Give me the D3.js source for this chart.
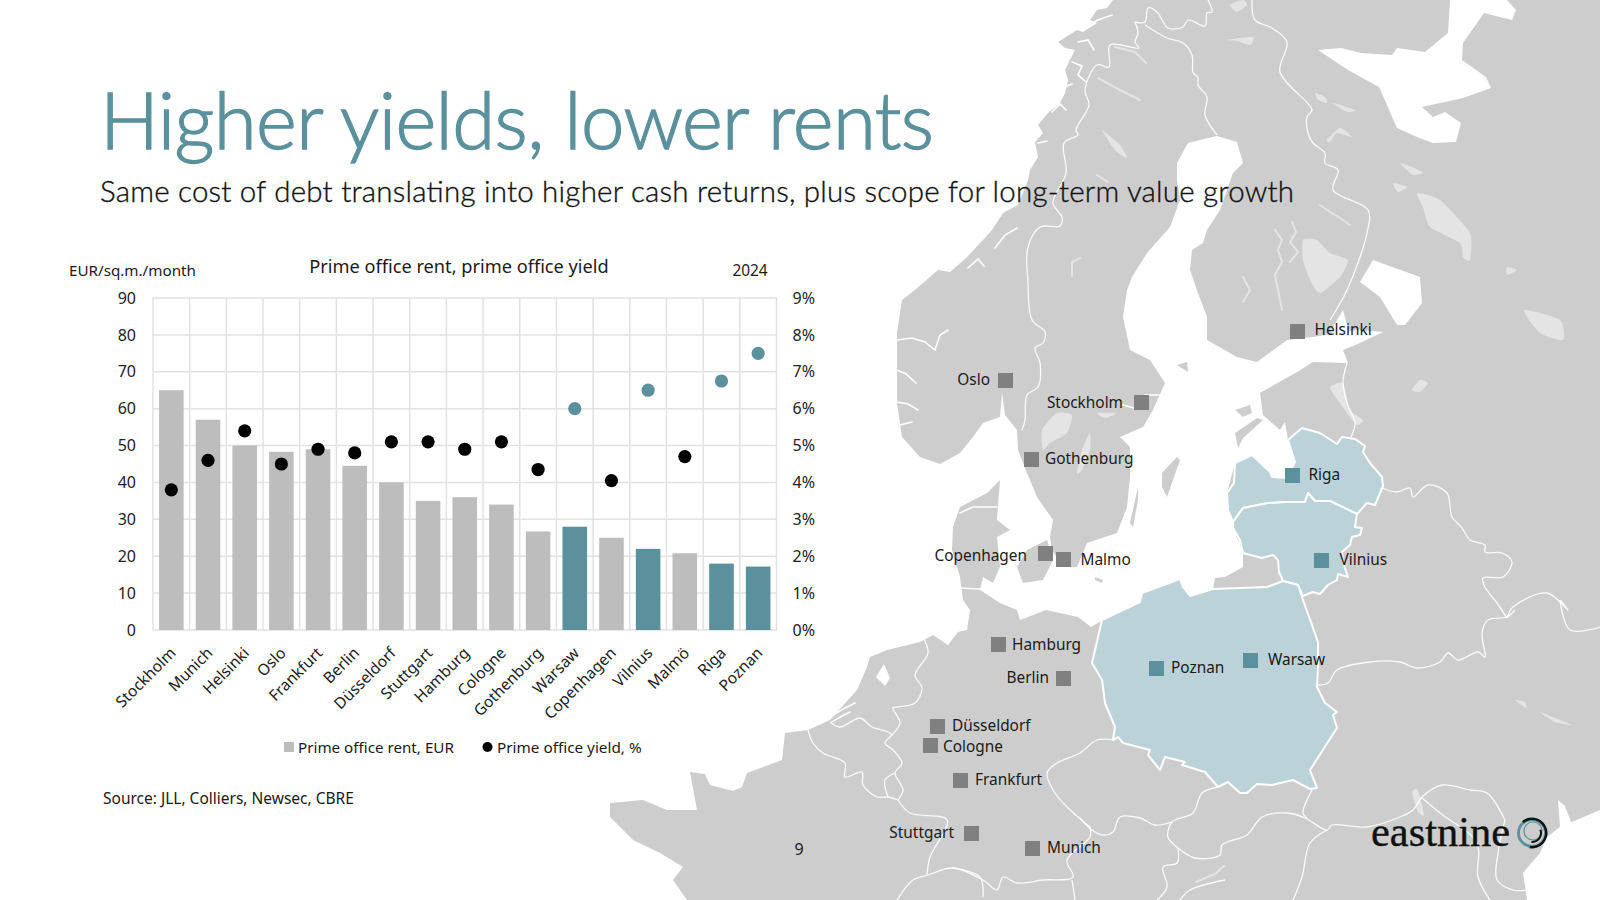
<!DOCTYPE html>
<html><head><meta charset="utf-8">
<script src="https://cdn.jsdelivr.net/npm/d3@7/dist/d3.min.js"></script>
<style>
html,body{margin:0;padding:0;background:#fff;overflow:hidden}
svg{display:block}
text{font-family:"Noto Sans",sans-serif}
</style></head><body>
<svg id="c" width="1600" height="900"></svg>
<script>
// ---------- chart data ----------
const categories=["Stockholm","Munich","Helsinki","Oslo","Frankfurt","Berlin","Düsseldorf","Stuttgart","Hamburg","Cologne","Gothenburg","Warsaw","Copenhagen","Vilnius","Malmö","Riga","Poznan"];
const rentValues=[65,57,50,48.3,49,44.5,40,35,36,34,26.7,28,25,22,20.8,18,17.2];
const yieldValues=[3.8,4.6,5.4,4.5,4.9,4.8,5.1,5.1,4.9,5.1,4.35,6.0,4.05,6.5,4.7,6.75,7.5];
const focusCities=["Warsaw","Vilnius","Riga","Poznan"];
const rentTicks=[0,10,20,30,40,50,60,70,80,90];
const yieldTicks=[0,1,2,3,4,5,6,7,8,9];
// ---------- map cities ----------
const cityNames=["Helsinki","Oslo","Stockholm","Gothenburg","Copenhagen","Malmo","Riga","Vilnius","Poznan","Warsaw","Hamburg","Berlin","Düsseldorf","Cologne","Frankfurt","Stuttgart","Munich"];
const cityX=[1297.5,1005.5,1141.5,1031.5,1045.5,1063.5,1292.5,1321.5,1156.5,1250.5,998.5,1063.5,937.5,930.5,960.5,971.5,1032.5];
const cityY=[331.5,380.5,402.5,459.5,553.5,559.5,475.5,560.5,668.5,660.5,644.5,678.5,726.5,745.5,780.5,833.5,848.5];
const cityLabelLeft=["Oslo","Stockholm","Copenhagen","Berlin","Stuttgart"];
const cityFocus=["Riga","Vilnius","Poznan","Warsaw"];
// ---------- map outlines (base-map geometry) ----------
const landOutline=[[1113,0],[1107,8],[1097,10],[1090,20],[1097,23],[1083,32],[1077,30],[1058,42],[1065,48],[1075,50],[1065,70],[1068,80],[1065,93],[1060,103],[1048,113],[1038,125],[1043,133],[1035,142],[1038,157],[1030,170],[1028,180],[1018,205],[1003,213],[992,230],[983,240],[967,257],[950,272],[938,270],[915,290],[902,300],[897,333],[897,403],[902,437],[920,457],[940,464],[960,453],[973,437],[983,423],[1000,417],[1002,393],[1005,415],[1017,430],[1018,450],[1027,473],[1037,497],[1053,520],[1050,537],[1052,550],[1063,567],[1077,567],[1087,543],[1117,533],[1127,507],[1130,477],[1130,447],[1120,437],[1143,427],[1153,410],[1165,383],[1150,360],[1130,350],[1123,317],[1127,290],[1132,277],[1147,253],[1170,227],[1180,200],[1177,180],[1177,163],[1188,143],[1200,140],[1217,136],[1237,142],[1243,163],[1233,173],[1220,210],[1207,230],[1203,243],[1192,250],[1190,270],[1198,293],[1207,317],[1207,340],[1237,357],[1257,362],[1287,340],[1313,337],[1357,330],[1383,332],[1360,343],[1343,350],[1348,363],[1313,362],[1297,372],[1260,393],[1263,415],[1280,430],[1285,422],[1288,440],[1295,462],[1287,478],[1272,477],[1252,455],[1235,463],[1227,493],[1233,528],[1243,553],[1243,567],[1225,577],[1215,578],[1213,589],[1190,596],[1183,587],[1180,579],[1142,593],[1140,602],[1105,619],[1091,627],[1078,617],[1046,610],[1020,620],[1017,610],[1000,603],[980,590],[983,577],[993,583],[1000,567],[997,537],[1010,530],[997,520],[1000,480],[987,493],[960,507],[953,527],[952,550],[960,577],[963,600],[970,610],[967,630],[958,632],[948,645],[933,635],[920,642],[887,650],[870,657],[867,667],[857,690],[848,700],[830,720],[808,730],[785,733],[782,760],[747,773],[742,787],[733,791],[710,785],[705,774],[690,772],[697,810],[667,810],[643,800],[610,803],[610,817],[633,840],[660,853],[683,867],[673,880],[687,900],[1527,900],[1523,873],[1540,853],[1547,837],[1560,827],[1600,810],[1600,0]];
const seaPatches=[
 [[1318,50],[1341,48],[1361,53],[1392,55],[1397,48],[1425,52],[1448,33],[1450,0],[1507,0],[1516,10],[1512,20],[1484,13],[1463,43],[1462,60],[1486,77],[1491,88],[1463,98],[1422,107],[1433,117],[1445,112],[1461,123],[1456,142],[1433,143],[1417,137],[1397,128],[1379,87],[1348,70]],
 [[1360,282],[1373,260],[1420,277],[1422,303],[1405,325],[1397,325],[1380,297]],
 [[1330,332],[1343,310],[1350,336]],
 [[876,677],[884,664],[890,678],[885,686]],
 [[1237,533],[1240,550],[1228,566],[1243,567],[1243,553]],
 [[1560,827],[1558,800],[1565,806],[1572,825]]
];
const islands=[
 [[1027,550],[1047,540],[1053,560],[1043,580],[1023,583],[1017,567]],
 [[1162,473],[1177,457],[1180,460],[1167,497],[1162,487]],
 [[1130,523],[1138,487],[1138,500],[1133,527]],
 [[1095,577],[1103,580],[1102,583],[1095,580]],
 [[1235,410],[1250,405],[1252,413],[1243,417]],
 [[1235,433],[1257,418],[1263,420],[1243,438],[1238,448]],
 [[1177,365],[1187,362],[1188,372]]
];
const lakes=[
 [[1043,450],[1042,430],[1057,413],[1072,415],[1067,433],[1050,443]],
 [[1077,473],[1082,450],[1090,433],[1090,450],[1082,470]],
 [[1097,413],[1117,413],[1105,418]],
 [[1330,388],[1343,383],[1350,410],[1363,420],[1357,425],[1347,413]],
 [[1303,240],[1317,240],[1330,253],[1348,260],[1340,277],[1320,293],[1310,280],[1303,260]],
 [[1417,193],[1440,200],[1470,233],[1470,260],[1463,257],[1460,243],[1430,227],[1423,207]],
 [[1315,93],[1325,97],[1327,103],[1318,100]],
 [[1333,103],[1355,110],[1347,112]],
 [[1327,140],[1340,128],[1352,137],[1337,133],[1330,142]],
 [[1400,163],[1423,172],[1413,175]],
 [[1393,183],[1407,187],[1398,192]],
 [[1524,310],[1560,320],[1563,340],[1540,333]],
 [[1507,267],[1517,270],[1507,275]],
 [[1412,390],[1420,380],[1428,383],[1420,392]],
 [[1225,40],[1253,37],[1250,45],[1237,41]],
 [[1230,5],[1243,0],[1247,5],[1237,12]],
 [[1102,130],[1120,145],[1127,158],[1115,150]],
 [[1412,792],[1418,790],[1424,815],[1418,812]],
 [[1515,700],[1525,702],[1526,708]],
 [[1540,712],[1555,718],[1572,725],[1555,722]]
];
const lakeStreaks=[
 [[1098,78],[1120,90],[1140,100]],[[1115,47],[1135,52],[1146,63]],
 [[1275,230],[1282,240],[1278,250],[1282,262],[1275,275],[1278,290],[1282,310]],
 [[1292,222],[1296,232],[1290,242],[1298,252],[1290,262]],
 [[1243,277],[1250,290],[1243,302]],
 [[1320,205],[1330,212],[1340,218],[1350,225]],
 [[1080,258],[1072,262],[1072,276]],
 [[1097,175],[1108,182]],
 [[1196,882],[1215,874],[1224,866]]
];
const fjords=[
 [[1088,25],[1098,20],[1112,15]],[[1078,42],[1088,40],[1094,50]],[[1072,62],[1082,66],[1078,75],[1086,82]],[[1062,88],[1072,84]],[[1052,112],[1060,104],[1066,110]],
 [[1038,143],[1047,141]],[[995,248],[1005,235],[1017,228]],[[968,268],[978,259],[984,266]],
 [[897,340],[912,338],[925,342],[935,350],[940,335],[948,330]],[[897,370],[906,374],[916,383]],[[897,402],[908,404],[918,410]],[[900,425],[912,422]],
 [[1125,437],[1138,435]],[[1123,405],[1134,408]],[[1145,395],[1160,395]],
 [[960,513],[973,507],[997,507]],[[833,715],[845,708],[855,703]],[[832,722],[842,716],[850,712]]
];
const latvia=[[1288,440],[1302,428],[1320,433],[1337,444],[1342,437],[1355,439],[1365,446],[1363,452],[1370,463],[1382,477],[1383,486],[1375,505],[1367,503],[1357,514],[1330,501],[1315,501],[1308,493],[1305,502],[1287,502],[1268,503],[1243,508],[1233,522],[1228,510],[1227,493],[1234,483],[1235,463],[1252,455],[1270,472],[1272,477],[1287,478],[1295,462]];
const lithuania=[[1233,522],[1243,508],[1268,503],[1287,502],[1305,502],[1308,493],[1315,501],[1330,501],[1357,514],[1355,527],[1362,528],[1360,535],[1352,537],[1350,545],[1342,552],[1343,562],[1348,577],[1338,574],[1337,580],[1328,585],[1320,594],[1313,592],[1303,596],[1298,585],[1283,581],[1279,572],[1278,560],[1273,555],[1262,558],[1243,553],[1240,540],[1233,528]];
const poland=[[1180,579],[1142,593],[1140,602],[1102,620],[1098,637],[1092,663],[1102,680],[1105,703],[1115,727],[1113,740],[1118,737],[1123,743],[1150,750],[1148,755],[1160,770],[1165,757],[1185,762],[1182,765],[1205,772],[1218,787],[1228,782],[1240,793],[1247,793],[1257,784],[1272,785],[1293,780],[1310,789],[1317,788],[1310,770],[1337,728],[1333,715],[1337,712],[1325,703],[1317,687],[1318,667],[1318,642],[1303,600],[1298,585],[1283,581],[1267,587],[1213,589],[1190,596],[1183,587]];
const borders=[
 [[1135,22],[1138,33],[1135,42],[1139,48],[1110,45],[1109,67],[1097,65],[1085,90],[1089,105],[1076,130],[1078,135],[1064,143],[1066,173],[1053,203],[1062,217],[1060,226],[1040,227],[1028,247],[1028,283],[1032,320],[1045,332],[1043,343],[1035,348],[1040,363],[1038,387],[1027,395],[1025,420],[1022,430]],
 [[1145,25],[1167,38],[1183,43],[1192,55],[1193,72],[1198,78],[1198,85],[1207,97],[1205,115],[1217,135]],
 [[1135,22],[1145,22],[1148,8],[1157,12],[1168,28],[1183,27],[1188,20],[1205,26],[1207,13],[1212,12],[1208,0]],
 [[1252,0],[1255,20],[1272,28],[1287,42],[1280,72],[1312,110],[1307,117],[1308,133],[1313,143],[1325,153],[1325,163],[1338,170],[1333,190],[1368,210],[1367,233],[1347,290],[1330,320]],
 [[1347,363],[1343,382],[1347,403],[1355,423],[1351,437]],
 [[1382,488],[1397,492],[1410,488],[1413,497],[1428,485],[1447,493],[1452,517],[1462,528],[1470,540],[1485,545],[1485,552],[1502,553],[1512,562],[1503,577],[1483,578],[1485,587],[1497,603],[1507,618]],
 [[1507,618],[1513,607],[1547,593],[1568,610],[1560,600]],
 [[1318,685],[1328,683],[1337,670],[1370,662],[1400,662],[1417,668],[1440,662],[1448,653],[1458,660],[1478,652],[1485,657],[1482,633],[1488,620],[1507,617],[1515,610]],
 [[1560,600],[1570,630],[1600,627]],
 [[1218,787],[1202,793],[1193,813],[1172,822],[1168,837],[1178,848],[1195,858],[1220,855],[1222,845],[1247,835],[1262,817],[1288,813],[1305,818],[1327,830],[1332,825],[1367,827],[1400,817],[1413,810],[1422,797],[1442,785],[1470,790],[1487,793],[1505,820]],
 [[1312,790],[1303,813],[1307,818]],
 [[1327,830],[1310,843],[1302,877],[1293,900]],
 [[1422,798],[1440,813],[1477,843],[1478,877],[1490,900]],
 [[1505,820],[1498,853],[1497,880],[1513,890],[1527,890]],
 [[1115,740],[1097,740],[1080,753],[1057,763],[1047,773],[1053,790],[1067,807],[1090,827]],
 [[1080,818],[1092,830],[1103,835],[1113,832],[1120,817],[1140,818],[1155,825],[1172,822]],
 [[1090,827],[1090,837],[1067,860],[1073,877],[1043,880],[1017,883],[1003,877],[997,890],[983,880],[953,868],[928,875],[913,880],[897,900]],
 [[898,800],[910,813],[947,820],[930,857],[927,875]],
 [[922,635],[928,653],[915,675],[922,688],[915,703],[898,707],[893,708],[900,723],[892,735],[885,743],[893,750],[902,763],[895,773],[903,790],[898,800]],
 [[830,722],[840,727],[860,718],[872,727],[888,732],[892,735]],
 [[808,730],[813,743],[823,753],[845,763],[845,777],[862,772],[863,785],[877,797],[888,797],[898,800]],
 [[895,773],[885,780],[888,797]],
 [[960,588],[997,590]],
 [[1178,848],[1177,863],[1163,867],[1167,887],[1157,900]],
 [[953,868],[980,877],[983,897]],
 [[1072,880],[1075,900]],[[1180,900],[1190,890],[1225,880]],
 [[1213,589],[1190,596]]
];
// ---------- layout & scales ----------
const teal="#5a919c", barGrey="#bdbdbd", land="#cdcdcd", focusLand="#bbd3d8", lakeGrey="#e4e4e4", grid="#e2e2e2", ink="#1a1a1a";
const svg=d3.select("#c");
const line=d3.line();
const mapLayer=svg.append("g");
const poly=(g,d,fill)=>g.append("path").attr("d",line(d)+"Z").attr("fill",fill);
const blob=d3.line().curve(d3.curveCardinalClosed.tension(.4));

poly(mapLayer,landOutline,land);
seaPatches.forEach(d=>poly(mapLayer,d,"#fff"));
islands.forEach(d=>poly(mapLayer,d,land));
lakes.forEach(d=>mapLayer.append("path").attr("d",blob(d)).attr("fill",lakeGrey));
lakeStreaks.forEach(d=>mapLayer.append("path").attr("d",line(d)).attr("fill","none").attr("stroke",lakeGrey).attr("stroke-width",2).attr("stroke-linecap","round"));
fjords.forEach(d=>mapLayer.append("path").attr("d",line(d)).attr("fill","none").attr("stroke","#fff").attr("stroke-width",1.6).attr("stroke-linecap","round"));
const smooth=d3.line().curve(d3.curveCatmullRom.alpha(0.5));
borders.forEach(d=>mapLayer.append("path").attr("d",smooth(d)).attr("fill","none").attr("stroke","#fff").attr("stroke-opacity",.9).attr("stroke-width",1.3));
[latvia,lithuania,poland].forEach(d=>poly(mapLayer,d,focusLand).attr("stroke","#fff").attr("stroke-width",2).attr("stroke-linejoin","round"));

// cities
const labelDx={Helsinki:17,Gothenburg:13.5,Malmo:17,Riga:16,Vilnius:18,Poznan:14.5,Warsaw:17.5,Hamburg:13.5,Düsseldorf:14.5,Cologne:12.5,Frankfurt:14.5,Munich:14.5,Oslo:15.5,Stockholm:18.5,Copenhagen:18.5,Berlin:14.5,Stuttgart:17.5};
const labelDy={Copenhagen:3,Cologne:2,Malmo:1,Riga:0,Vilnius:0,Stockholm:1,Hamburg:1,Helsinki:-1};
cityNames.forEach((n,i)=>{
  const x=cityX[i],y=cityY[i],left=cityLabelLeft.includes(n);
  mapLayer.append("rect").attr("x",x-7.5).attr("y",y-7.5).attr("width",15).attr("height",15)
    .attr("fill",cityFocus.includes(n)?teal:"#808080");
  mapLayer.append("text").attr("x",left?x-labelDx[n]:x+labelDx[n]).attr("y",y+(labelDy[n]||0)).attr("text-anchor",left?"end":"start")
    .attr("dominant-baseline","middle").attr("font-size",15.4).style("fill",ink).text(n);
});

// chart
const plot={l:153,r:776.5,t:298,b:630};
const x=d3.scaleBand().domain(categories).range([plot.l,plot.r]).paddingInner(.33).paddingOuter(.165);
const yL=d3.scaleLinear().domain([0,90]).range([plot.b,plot.t]);
const yR=d3.scaleLinear().domain([0,9]).range([plot.b,plot.t]);
const ch=svg.append("g");
ch.append("g").selectAll("line").data(rentTicks).join("line")
  .attr("x1",plot.l).attr("x2",plot.r).attr("y1",d=>yL(d)).attr("y2",d=>yL(d)).attr("stroke",grid).attr("stroke-width",1.5);
ch.append("g").selectAll("line").data(d3.range(categories.length+1)).join("line")
  .attr("x1",i=>plot.l+i*x.step()).attr("x2",i=>plot.l+i*x.step()).attr("y1",plot.t).attr("y2",plot.b).attr("stroke",grid).attr("stroke-width",1.5);
ch.append("g").selectAll("rect").data(categories).join("rect")
  .attr("x",d=>x(d)).attr("width",x.bandwidth())
  .attr("y",(d,i)=>yL(rentValues[i])).attr("height",(d,i)=>plot.b-yL(rentValues[i]))
  .attr("fill",d=>focusCities.includes(d)?teal:barGrey);
ch.append("g").selectAll("circle").data(categories).join("circle")
  .attr("cx",d=>x(d)+x.bandwidth()/2).attr("cy",(d,i)=>yR(yieldValues[i])).attr("r",6.6)
  .attr("fill",d=>focusCities.includes(d)?teal:"#000");
const axL=ch.append("g").attr("transform",`translate(${plot.l},0)`).call(d3.axisLeft(yL).tickValues(rentTicks).tickSize(0).tickPadding(17));
const axR=ch.append("g").attr("transform",`translate(${plot.r},0)`).call(d3.axisRight(yR).tickValues(yieldTicks).tickFormat(d=>d+"%").tickSize(0).tickPadding(16));
const axB=ch.append("g").attr("transform",`translate(0,${plot.b})`).call(d3.axisBottom(x).tickSize(0));
[axL,axR,axB].forEach(a=>{a.select(".domain").remove();a.selectAll("text").attr("font-size",16).attr("font-family",'"Noto Sans",sans-serif').style("fill","#222");});
axB.selectAll("text").attr("font-size",15.6).attr("text-anchor","end").attr("dy",0).attr("y",0)
  .attr("transform","translate(5.5,24) rotate(-45)");
const T=(x,y,s,size,anchor,fill)=>svg.append("text").attr("x",x).attr("y",y).attr("font-size",size).attr("text-anchor",anchor||"start").attr("dominant-baseline","middle").style("fill",fill||ink).text(s);
T(69,272,"EUR/sq.m./month",15.2);
T(459,268,"Prime office rent, prime office yield",18.2,"middle");
T(750,272,"2024",15.4,"middle");
svg.append("rect").attr("x",284).attr("y",742).attr("width",10).attr("height",10).attr("fill",barGrey);
T(298,749,"Prime office rent, EUR",15.2);
svg.append("circle").attr("cx",487.5).attr("cy",747).attr("r",5).attr("fill","#000");
T(497,749,"Prime office yield, %",15.3);
T(103,800,"Source: JLL, Colliers, Newsec, CBRE",15.5);
T(799,851,"9",16,"middle");
// titles
svg.append("text").attr("x",100).attr("y",149).attr("font-size",78).attr("font-weight",300).attr("stroke",teal).attr("stroke-width",1.4)
  .attr("textLength",834).attr("lengthAdjust","spacing").style("font-family","Lato,sans-serif").style("fill",teal).text("Higher yields, lower rents");
svg.append("text").attr("x",100).attr("y",202).attr("font-size",29.5).attr("font-weight",300).attr("stroke","#111").attr("stroke-width",.35)
  .attr("textLength",1194).attr("lengthAdjust","spacing").style("font-family","Lato,sans-serif").style("fill","#111").text("Same cost of debt translating into higher cash returns, plus scope for long-term value growth");
// logo
svg.append("text").attr("x",1371).attr("y",846).attr("font-size",43).attr("stroke","#111").attr("stroke-width",.4).style("font-family",'"Liberation Serif",serif').style("fill","#111").attr("textLength",139).attr("lengthAdjust","spacingAndGlyphs").text("eastnine");
const arc=d3.arc();
const lg=svg.append("g").attr("transform","translate(1532,833)");
lg.append("circle").attr("r",13.5).attr("fill","none").attr("stroke",teal).attr("stroke-width",2.8);
lg.append("path").attr("d",arc({innerRadius:13,outerRadius:15.5,startAngle:-0.7,endAngle:3.3})).attr("fill","#111");
lg.append("circle").attr("cx",1).attr("cy",-2).attr("r",9).attr("fill","none").attr("stroke",teal).attr("stroke-width",1.2);
lg.append("path").attr("d",arc({innerRadius:8,outerRadius:10,startAngle:1.2,endAngle:3.2})).attr("fill","#111");
</script></body></html>
